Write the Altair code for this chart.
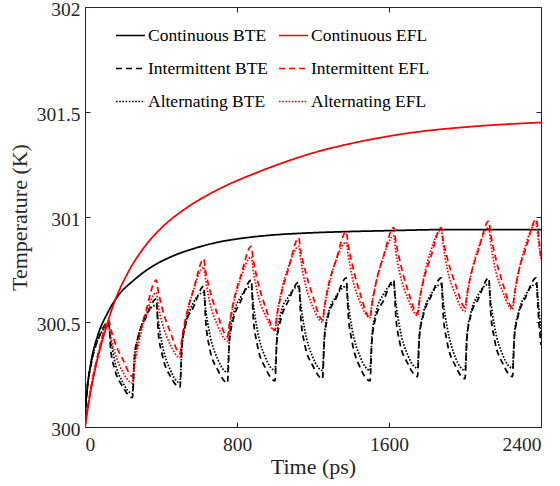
import altair as alt
import pandas as pd

# ---------------- data ----------------
t_cont_bte = [0, 3, 12, 30, 65, 117, 170, 258, 346, 451, 574, 700, 837, 1000,
              1200, 1363, 1600, 1900, 2200, 2400]
T_cont_bte = [300.00, 300.08, 300.18, 300.30, 300.43, 300.54, 300.62, 300.70,
              300.76, 300.81, 300.85, 300.88, 300.90, 300.915, 300.925, 300.93,
              300.935, 300.94, 300.94, 300.94]

t_cont_efl = [0, 4, 12, 30, 65, 100, 153, 223, 311, 416, 521, 732, 900, 1047,
              1200, 1400, 1600, 1747, 1900, 2100, 2400]
T_cont_efl = [300.00, 300.02, 300.07, 300.17, 300.32, 300.44, 300.59, 300.73,
              300.855, 300.96, 301.035, 301.145, 301.21, 301.26, 301.305, 301.35,
              301.385, 301.405, 301.42, 301.435, 301.45]

t_pulse = [0, 3, 10, 30, 70, 125, 135, 155, 200,
           250, 260, 280, 320, 375, 385, 405, 450,
           500, 510, 530, 570, 625, 635, 655, 700,
           750, 760, 780, 820, 875, 885, 905, 950,
           1000, 1010, 1030, 1070, 1125, 1135, 1155, 1200,
           1250, 1260, 1280, 1320, 1375, 1385, 1405, 1450,
           1500, 1510, 1530, 1570, 1625, 1635, 1655, 1700,
           1750, 1760, 1780, 1820, 1875, 1885, 1905, 1950,
           2000, 2010, 2030, 2070, 2125, 2135, 2155, 2200,
           2250, 2260, 2280, 2320, 2375, 2385, 2400]

T_int_bte = [300.00, 300.08, 300.17, 300.29, 300.42, 300.50, 300.37, 300.28, 300.19,
             300.14, 300.33, 300.43, 300.52, 300.61, 300.46, 300.35, 300.24,
             300.19, 300.38, 300.49, 300.57, 300.67, 300.51, 300.38, 300.27,
             300.21, 300.41, 300.51, 300.60, 300.70, 300.53, 300.40, 300.28,
             300.22, 300.41, 300.51, 300.60, 300.69, 300.53, 300.40, 300.29,
             300.23, 300.42, 300.53, 300.61, 300.71, 300.54, 300.41, 300.28,
             300.22, 300.41, 300.52, 300.60, 300.70, 300.54, 300.41, 300.30,
             300.24, 300.43, 300.53, 300.62, 300.71, 300.54, 300.41, 300.29,
             300.23, 300.42, 300.53, 300.61, 300.71, 300.55, 300.42, 300.30,
             300.24, 300.43, 300.53, 300.62, 300.71, 300.55, 300.39]

T_int_efl = [300.00, 300.03, 300.07, 300.18, 300.35, 300.51, 300.47, 300.41, 300.32,
             300.24, 300.31, 300.41, 300.55, 300.70, 300.65, 300.57, 300.45,
             300.35, 300.42, 300.52, 300.65, 300.80, 300.74, 300.66, 300.53,
             300.43, 300.49, 300.59, 300.72, 300.86, 300.80, 300.71, 300.57,
             300.46, 300.53, 300.62, 300.75, 300.90, 300.84, 300.76, 300.62,
             300.51, 300.57, 300.67, 300.79, 300.93, 300.87, 300.78, 300.63,
             300.52, 300.58, 300.68, 300.81, 300.95, 300.89, 300.80, 300.65,
             300.54, 300.60, 300.69, 300.81, 300.95, 300.89, 300.81, 300.68,
             300.57, 300.63, 300.72, 300.84, 300.98, 300.92, 300.83, 300.68,
             300.57, 300.63, 300.73, 300.85, 300.99, 300.93, 300.79]

T_alt_bte = [300.00, 300.08, 300.17, 300.29, 300.42, 300.48, 300.42, 300.32, 300.21,
             300.16, 300.33, 300.43, 300.53, 300.58, 300.51, 300.40, 300.27,
             300.21, 300.38, 300.49, 300.59, 300.64, 300.56, 300.45, 300.32,
             300.26, 300.42, 300.53, 300.62, 300.67, 300.59, 300.47, 300.33,
             300.27, 300.43, 300.54, 300.62, 300.67, 300.59, 300.47, 300.33,
             300.27, 300.43, 300.54, 300.62, 300.67, 300.59, 300.47, 300.33,
             300.27, 300.43, 300.54, 300.63, 300.68, 300.60, 300.48, 300.34,
             300.28, 300.44, 300.54, 300.63, 300.68, 300.60, 300.48, 300.33,
             300.27, 300.43, 300.54, 300.63, 300.68, 300.60, 300.48, 300.34,
             300.28, 300.44, 300.54, 300.63, 300.68, 300.60, 300.44]

T_alt_efl = [300.00, 300.03, 300.07, 300.18, 300.35, 300.48, 300.43, 300.36, 300.26,
             300.21, 300.29, 300.39, 300.53, 300.64, 300.58, 300.50, 300.39,
             300.33, 300.41, 300.51, 300.65, 300.76, 300.70, 300.60, 300.48,
             300.41, 300.48, 300.58, 300.71, 300.81, 300.75, 300.65, 300.53,
             300.46, 300.53, 300.63, 300.76, 300.86, 300.80, 300.70, 300.57,
             300.50, 300.57, 300.66, 300.79, 300.88, 300.82, 300.72, 300.59,
             300.52, 300.59, 300.68, 300.81, 300.91, 300.84, 300.74, 300.61,
             300.53, 300.60, 300.70, 300.84, 300.94, 300.87, 300.76, 300.63,
             300.55, 300.62, 300.72, 300.85, 300.95, 300.88, 300.77, 300.64,
             300.56, 300.63, 300.73, 300.87, 300.97, 300.90, 300.80]

# legend fills column by column: BTE entries in column 1, EFL in column 2
series_names = ["Continuous BTE", "Intermittent BTE", "Alternating BTE",
                "Continuous EFL", "Intermittent EFL", "Alternating EFL"]
series_colors = ["#000000", "#000000", "#000000", "#ff0000", "#ff0000", "#ff0000"]
series_dashes = [[1, 0], [6, 4], [1.6, 1.6], [1, 0], [6, 4], [1.6, 1.6]]

x_ticks = [0, 800, 1600, 2400]
y_ticks = [300, 300.5, 301, 301.5, 302]

# ---------------- table ----------------
rows = []
for name, ts, vs in [
    ("Continuous BTE", t_cont_bte, T_cont_bte),
    ("Continuous EFL", t_cont_efl, T_cont_efl),
    ("Intermittent BTE", t_pulse, T_int_bte),
    ("Intermittent EFL", t_pulse, T_int_efl),
    ("Alternating BTE", t_pulse, T_alt_bte),
    ("Alternating EFL", t_pulse, T_alt_efl),
]:
    for i, (a, b) in enumerate(zip(ts, vs)):
        rows.append({"series": name, "t": a, "T": b, "idx": i})
df = pd.DataFrame(rows)

FONT = "'Liberation Serif', 'Times New Roman', serif"
AX = "#262626"

x_scale = alt.Scale(domain=[0, 2400], nice=False, zero=False)
y_scale = alt.Scale(domain=[300, 302], nice=False, zero=False)

tick_style = dict(grid=False, domain=False, tickColor=AX, tickSize=5,
                  tickWidth=1, offset=-5)
text_style = dict(labelFont=FONT, labelFontSize=19.5, labelColor=AX,
                  titleFont=FONT, titleFontSize=22, titleFontWeight="normal",
                  titleColor=AX)

legend = alt.Legend(title=None, orient="none", legendX=30, legendY=13,
                    columns=2, symbolType="stroke", symbolSize=841,
                    symbolStrokeWidth=1.7, labelFont=FONT, labelFontSize=17.5,
                    labelColor="#000000", labelOffset=2, columnPadding=6,
                    rowPadding=9, padding=0, labelLimit=300)

lines = alt.Chart(df).mark_line(strokeWidth=1.75, clip=True,
                                interpolate="monotone").encode(
    x=alt.X("t:Q", scale=x_scale,
            axis=alt.Axis(values=x_ticks, format="d", title="Time (ps)",
                          labelPadding=8, titlePadding=3,
                          **tick_style, **text_style)),
    y=alt.Y("T:Q", scale=y_scale,
            axis=alt.Axis(values=y_ticks, format=".1~f", title="Temperature (K)",
                          labelPadding=5, titlePadding=5, labelOffset=2,
                          **tick_style, **text_style)),
    color=alt.Color("series:N", sort=series_names,
                    scale=alt.Scale(domain=series_names, range=series_colors),
                    legend=legend),
    strokeDash=alt.StrokeDash("series:N", sort=series_names,
                              scale=alt.Scale(domain=series_names, range=series_dashes),
                              legend=legend),
    order="idx:Q",
)

frame = alt.Chart(df).mark_point(opacity=0).encode(
    x=alt.X("t:Q", scale=x_scale,
            axis=alt.Axis(orient="top", values=x_ticks, labels=False, title=None,
                          **tick_style)),
    y=alt.Y("T:Q", scale=y_scale,
            axis=alt.Axis(orient="right", values=y_ticks, labels=False, title=None,
                          **tick_style)),
)

chart = alt.layer(lines, frame).resolve_axis(
    x="independent", y="independent"
).properties(
    width=456, height=420,
    padding={"left": 85, "top": 7, "right": 19, "bottom": 59},
    autosize=alt.AutoSizeParams(type="none"),
    background="white",
).configure_view(stroke=AX, strokeWidth=1)

chart.save("out.html", embed_options={"renderer": "svg", "actions": False})
